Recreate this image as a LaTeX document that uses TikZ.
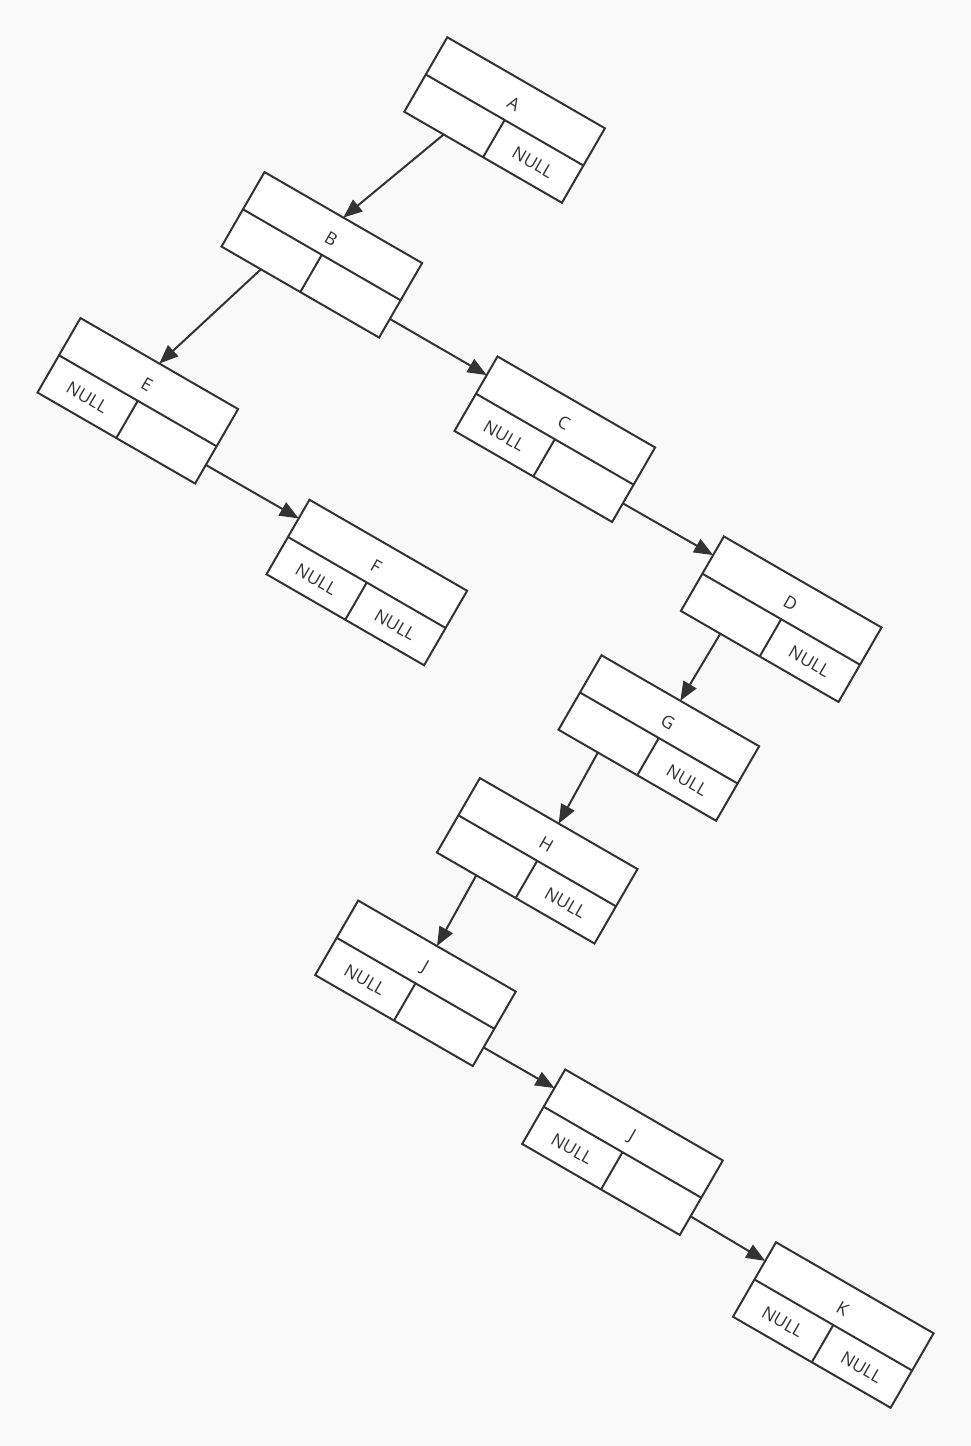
\documentclass[tikz,border=0pt]{standalone}
\usepackage{fontspec}
\setmainfont{Open Sans}
\usetikzlibrary{arrows.meta,calc}
\definecolor{ink}{HTML}{333333}
\definecolor{bgc}{HTML}{F9F9F9}
\tikzset{
  cellbox/.style={draw=ink, fill=white, line width=2pt, rotate=-30,
    minimum width=182pt, minimum height=86pt, inner sep=0pt, outer sep=0pt},
  divline/.style={draw=ink, line width=2pt},
  lbl/.style={text=ink, font=\fontsize{17.5}{17.5}\selectfont, rotate=-30, inner sep=0pt},
  link/.style={draw=ink, line width=2pt, -{Triangle[length=19pt,width=15pt]}},
}
% #1 name, #2 x, #3 y (screen), #4 title, #5 left cell, #6 right cell
\newcommand{\listnode}[6]{%
  \node[cellbox] (#1) at (#2,-#3) {};
  \draw[divline] (#1.west) -- (#1.east) (#1.center) -- (#1.south);
  \coordinate (#1-pl) at ($(#1.south west)!0.5!(#1.south)$);
  \coordinate (#1-pr) at ($(#1.east)!0.5!(#1.south east)$);
  \coordinate (#1-in) at ($(#1.west)!0.5!(#1.north west)$);
  \begin{scope}[shift={(#1.center)},rotate=-30]
    \node[lbl] (#1-t) at (0,18.5) {#4};
    \def\tmpl{#5}\ifx\tmpl\empty\else\node[lbl] (#1-l) at (-45.5,-22.5) {#5};\fi
    \def\tmpr{#6}\ifx\tmpr\empty\else\node[lbl] (#1-r) at (45.5,-22.5) {#6};\fi
  \end{scope}}
\begin{document}
\begin{tikzpicture}[x=1pt,y=1pt]
\fill[bgc] (0,0) rectangle (971,-1446);
\useasboundingbox (0,0) rectangle (971,-1446);

\listnode{A}{504.6}{120.0}{A}{}{NULL}
\listnode{B}{321.8}{254.8}{B}{}{}
\listnode{E}{137.8}{400.8}{E}{NULL}{}
\listnode{C}{554.8}{439.2}{C}{NULL}{}
\listnode{F}{366.8}{582.5}{F}{NULL}{NULL}
\listnode{D}{781.2}{619.2}{D}{}{NULL}
\listnode{G}{658.8}{738.0}{G}{}{NULL}
\listnode{H}{537.2}{860.8}{H}{}{NULL}
\listnode{J1}{415.5}{983.3}{J}{NULL}{}
\listnode{J2}{622.5}{1152.2}{J}{NULL}{}
\listnode{K}{833.3}{1325.0}{K}{NULL}{NULL}

\draw[link] (A-pl) -- (B.north);
\draw[link] (B-pl) -- (E.north);
\draw[link] (B-pr) -- (C-in);
\draw[link] (E-pr) -- (F-in);
\draw[link] (C-pr) -- (D-in);
\draw[link] (D-pl) -- (G.north);
\draw[link] (G-pl) -- (H.north);
\draw[link] (H-pl) -- (J1.north);
\draw[link] (J1-pr) -- (J2-in);
\draw[link] (J2-pr) -- (K-in);
\end{tikzpicture}
\end{document}
